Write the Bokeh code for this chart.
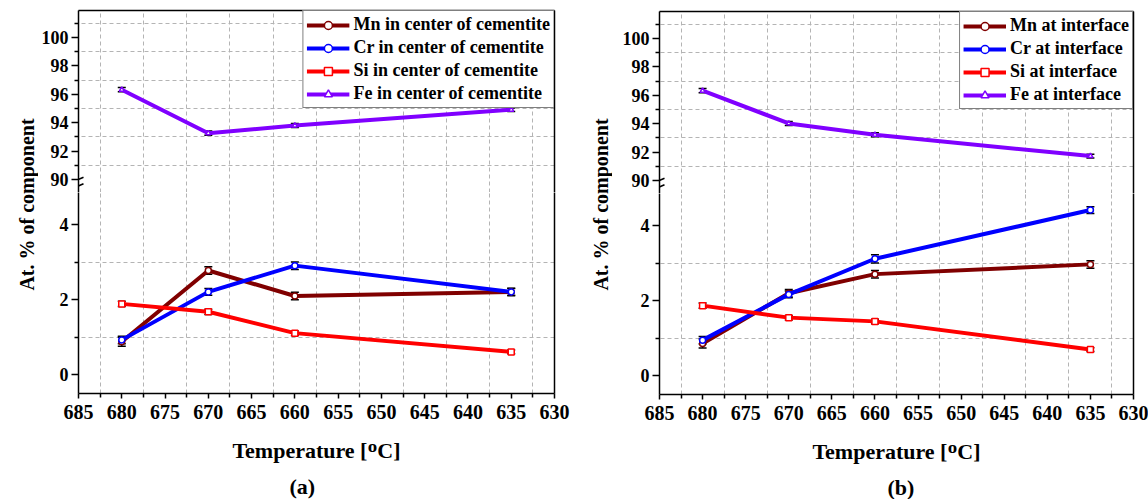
from bokeh.plotting import figure
from bokeh.models import (Range1d, LinearAxis, FixedTicker, Whisker, ColumnDataSource,
                          Legend, LegendItem, TeeHead, Arrow, Title)
from bokeh.layouts import row, column
from bokeh.embed import file_html
from bokeh.resources import INLINE

# ---------------- data ----------------
temps = [680, 670, 660, 635]

mn_center = [0.88, 2.78, 2.10, 2.21]
cr_center = [0.93, 2.21, 2.91, 2.21]
si_center = [1.89, 1.68, 1.11, 0.61]
fe_center = [96.32, 93.26, 93.80, 94.91]
mn_center_err = [0.12, 0.10, 0.10, 0.10]
cr_center_err = [0.10, 0.09, 0.10, 0.09]
si_center_err = [0.07, 0.07, 0.06, 0.05]
fe_center_err = [0.15, 0.15, 0.14, 0.12]

mn_interface = [0.86, 2.20, 2.71, 2.97]
cr_interface = [0.95, 2.17, 3.12, 4.42]
si_interface = [1.87, 1.55, 1.45, 0.70]
fe_interface = [96.32, 94.02, 93.22, 91.72]
mn_interface_err = [0.12, 0.10, 0.10, 0.10]
cr_interface_err = [0.10, 0.09, 0.11, 0.09]
si_interface_err = [0.07, 0.06, 0.06, 0.05]
fe_interface_err = [0.15, 0.14, 0.14, 0.13]

labels_center = ["Mn in center of cementite", "Cr in center of cementite",
                 "Si in center of cementite", "Fe in center of cementite"]
labels_interface = ["Mn at interface", "Cr at interface", "Si at interface", "Fe at interface"]

x_ticks = [685, 680, 675, 670, 665, 660, 655, 650, 645, 640, 635, 630]
x_minor = [682.5, 677.5, 672.5, 667.5, 662.5, 657.5, 652.5, 647.5, 642.5, 637.5, 632.5]
low_ticks = [0, 2, 4]
low_minor = [1, 3]
high_ticks = [90, 92, 94, 96, 98, 100]
high_minor = [91, 93, 95, 97, 99, 101]

# ---------------- styling ----------------
FONT = "Liberation Serif"
COLORS = ["#800000", "#0000FF", "#FF0000", "#8000FF"]
MARKERS = ["circle", "circle", "square", "triangle"]
X_START, X_END = 685, 630
TOP_H, BOT_H = 182, 201
TOP_RANGE = (101.9 - TOP_H / 14.2, 101.9)
BOT_RANGE = (-0.5, -0.5 + BOT_H / 37.5)
GRID_COLOR = "#b4b4b4"


def style_axis(ax, size):
    ax.axis_line_color = "black"
    ax.axis_line_width = 1.5
    ax.major_tick_line_color = "black"
    ax.major_tick_line_width = 1.5
    ax.minor_tick_line_color = "black"
    ax.minor_tick_line_width = 1.5
    ax.major_tick_in = 0
    ax.minor_tick_in = 0
    ax.major_label_text_font = FONT
    ax.major_label_text_font_style = "bold"
    ax.major_label_text_font_size = size
    ax.major_label_text_color = "black"


def line_only_axis():
    ax = LinearAxis(ticker=FixedTicker(ticks=[]))
    ax.axis_line_color = "black"
    ax.axis_line_width = 1.5
    ax.major_tick_out = 0
    ax.minor_tick_out = 0
    ax.major_tick_in = 0
    ax.minor_tick_in = 0
    ax.major_label_text_font_size = "0px"
    return ax


def style_grids(p, yticks):
    p.xgrid.ticker = FixedTicker(ticks=x_minor)
    p.ygrid.ticker = FixedTicker(ticks=yticks)
    for g in (p.xgrid[0], p.ygrid[0]):
        g.grid_line_color = GRID_COLOR
        g.grid_line_dash = "4 3"
        g.grid_line_width = 1


def add_series(p, x, y, err, color, marker, size, shown=True):
    src = ColumnDataSource(dict(x=x, y=y,
                                upper=[v + e for v, e in zip(y, err)],
                                lower=[v - e for v, e in zip(y, err)]))
    lr = p.line("x", "y", source=src, line_color=color, line_width=4, visible=shown)
    mr = p.scatter("x", "y", source=src, marker=marker, size=size,
                   fill_color="white", line_color=color, line_width=1.5, visible=shown)
    if shown:
        p.add_layout(Whisker(base="x", upper="upper", lower="lower", source=src,
                             line_color="black", line_width=1.5,
                             upper_head=TeeHead(size=8, line_color="black", line_width=1.5),
                             lower_head=TeeHead(size=8, line_color="black", line_width=1.5)))
    return [lr, mr]


def title_column(left, top):
    fh = TOP_H + BOT_H + 3
    t = figure(frame_width=1, frame_height=fh,
               min_border_left=left, min_border_right=0,
               min_border_top=top, min_border_bottom=499 - top - fh,
               x_range=Range1d(0, 1), y_range=Range1d(0, 1),
               x_axis_type=None, y_axis_type=None, output_backend="svg",
               toolbar_location=None)
    t.outline_line_color = None
    ax = LinearAxis(ticker=FixedTicker(ticks=[]), axis_line_color=None,
                    major_tick_out=0, minor_tick_out=0, major_tick_in=0, minor_tick_in=0,
                    major_label_text_font_size="0px",
                    axis_label="At. % of component", axis_label_standoff=0,
                    axis_label_text_font=FONT, axis_label_text_font_style="bold",
                    axis_label_text_font_size="20px", axis_label_text_color="black")
    t.add_layout(ax, "left")
    return t


def make_panel(values, errs, labels, tag, tag_left, left, top, frame_w, right):
    # ---------- upper segment (Fe) ----------
    pt = figure(frame_width=frame_w, frame_height=TOP_H,
                min_border_left=left, min_border_right=right,
                min_border_top=top, min_border_bottom=0,
                x_range=Range1d(X_START, X_END), y_range=Range1d(*TOP_RANGE),
                x_axis_location="above", output_backend="svg", toolbar_location=None)
    pt.outline_line_color = None
    pt.background_fill_color = "white"
    xa = pt.xaxis[0]
    xa.ticker = FixedTicker(ticks=[])
    xa.axis_line_color = "black"
    xa.axis_line_width = 1.5
    xa.major_tick_out = 0
    xa.minor_tick_out = 0
    xa.major_label_text_font_size = "0px"
    ya = pt.yaxis[0]
    ya.ticker = FixedTicker(ticks=high_ticks, minor_ticks=high_minor)
    style_axis(ya, "18px")
    ya.major_tick_out = 7
    ya.minor_tick_out = 4
    ya.major_label_standoff = 3
    pt.add_layout(line_only_axis(), "right")
    style_grids(pt, high_minor)

    # ---------- lower segment (Mn, Cr, Si) ----------
    pb = figure(frame_width=frame_w, frame_height=BOT_H,
                min_border_left=left, min_border_right=right,
                min_border_top=0, min_border_bottom=499 - top - TOP_H - BOT_H,
                x_range=pt.x_range, y_range=Range1d(*BOT_RANGE),
                output_backend="svg", toolbar_location=None)
    pb.outline_line_color = None
    pb.background_fill_color = "white"
    xb = pb.xaxis[0]
    xb.ticker = FixedTicker(ticks=x_ticks, minor_ticks=x_minor)
    style_axis(xb, "20px")
    xb.major_tick_out = 5
    xb.minor_tick_out = 4
    xb.major_label_standoff = 6
    xb.axis_label = "Temperature [ᴼC]"
    xb.axis_label_text_font = FONT
    xb.axis_label_text_font_style = "bold"
    xb.axis_label_text_font_size = "22px"
    xb.axis_label_text_color = "black"
    xb.axis_label_standoff = 16
    yb = pb.yaxis[0]
    yb.ticker = FixedTicker(ticks=low_ticks, minor_ticks=low_minor)
    style_axis(yb, "18px")
    yb.major_tick_out = 7
    yb.minor_tick_out = 4
    yb.major_label_standoff = 3
    pb.add_layout(line_only_axis(), "right")
    style_grids(pb, low_minor)
    pb.add_layout(Title(text=tag, align="left", offset=tag_left, standoff=13,
                        text_font=FONT, text_font_style="bold", text_font_size="22px",
                        text_color="black"), "below")

    items = []
    for i in range(3):
        add_series(pb, temps, values[i], errs[i], COLORS[i], MARKERS[i], 6)
        # legend entries live in the upper plot, which holds the legend box
        rs = add_series(pt, temps, values[i], errs[i], COLORS[i], MARKERS[i], 6, shown=False)
        items.append(LegendItem(label=labels[i], renderers=rs))
    rs = add_series(pt, temps, values[3], errs[3], COLORS[3], MARKERS[3], 5)
    items.append(LegendItem(label=labels[3], renderers=rs))

    leg = Legend(items=items, location="top_right", margin=0, padding=3, spacing=2,
                 glyph_width=43, glyph_height=20, label_height=20, label_standoff=4,
                 label_text_font=FONT, label_text_font_style="bold", label_text_font_size="18px",
                 label_text_color="black", click_policy="none",
                 border_line_color="black", border_line_width=1.2, background_fill_alpha=1)
    pt.add_layout(leg)

    # axis break marks on the left axis
    xs_per_px = (X_START - X_END) / frame_w
    ys_per_px = (TOP_RANGE[1] - TOP_RANGE[0]) / TOP_H
    for cy in (169, 175.5):
        pt.add_layout(Arrow(x_start=X_START + 5.5 * xs_per_px,
                            y_start=TOP_RANGE[1] - (cy + 2.3) * ys_per_px,
                            x_end=X_START - 5.0 * xs_per_px,
                            y_end=TOP_RANGE[1] - (cy - 2.3) * ys_per_px,
                            end=None, line_color="black", line_width=1.5))
    return column(pt, pb)


ta = title_column(left=37, top=10)
pa = make_panel([mn_center, cr_center, si_center, fe_center],
                [mn_center_err, cr_center_err, si_center_err, fe_center_err],
                labels_center, "(a)", 211, left=38, top=10, frame_w=476, right=22)
tb = title_column(left=35, top=11)
pb_ = make_panel([mn_interface, cr_interface, si_interface, fe_interface],
                 [mn_interface_err, cr_interface_err, si_interface_err, fe_interface_err],
                 labels_interface, "(b)", 228, left=47, top=11, frame_w=474, right=17)

layout = row(ta, pa, tb, pb_)
open("out.html", "w").write(file_html(layout, INLINE))
